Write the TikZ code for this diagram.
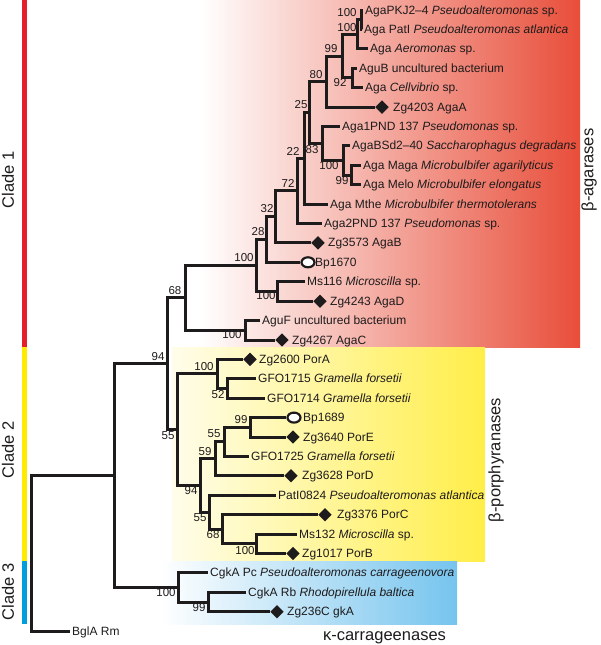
\documentclass[tikz,border=0pt]{standalone}
\usepackage{fontspec}
\setmainfont{Liberation Sans}
\usetikzlibrary{shapes.geometric}
\definecolor{ink}{RGB}{30,27,28}
\definecolor{agmid}{RGB}{241,150,122}
\definecolor{agred}{RGB}{232,78,58}
\definecolor{pyleft}{RGB}{255,253,234}
\definecolor{pymid}{RGB}{255,248,180}
\definecolor{pyright}{RGB}{255,238,72}
\definecolor{kamid}{RGB}{190,226,246}
\definecolor{karight}{RGB}{118,196,238}
\definecolor{barred}{RGB}{228,30,42}
\definecolor{baryellow}{RGB}{255,234,0}
\definecolor{barblue}{RGB}{0,158,219}
\begin{document}
\begin{tikzpicture}[x=1pt,y=-1pt,
  br/.style={line width=3pt,draw=ink,line join=miter},
  leaf/.style={anchor=west,inner xsep=2.5pt,inner ysep=0pt,text height=8pt,text depth=0pt,font=\fontsize{12}{14}\selectfont,text=ink},
  dmd/.style={diamond,fill=ink,inner sep=0pt,minimum width=13.5pt,minimum height=13.5pt},
  oval/.style={ellipse,draw=ink,fill=white,line width=2.2pt,inner sep=0pt,minimum width=13pt,minimum height=10pt},
  bs/.style={font=\fontsize{11.5}{13}\selectfont,text=ink,inner sep=0pt},
  big/.style={font=\fontsize{16.5}{19}\selectfont,text=ink,inner sep=0pt}]
\useasboundingbox (0,0) rectangle (600,645);
% background bands
\shade[left color=white,middle color=agmid,right color=agred] (200,0) rectangle (580,347);
\shade[left color=pyleft,middle color=pymid,right color=pyright] (172,347) rectangle (485,561);
\shade[left color=white,middle color=kamid,right color=karight] (160,561) rectangle (457,624);
% clade bars
\fill[barred] (21.5,0) rectangle (26.5,347);
\fill[baryellow] (21.5,347) rectangle (26.5,561);
\fill[barblue] (21.5,561) rectangle (26.5,624);
\node[big,rotate=90] (cl1) at (8,180) {Clade 1};
\node[big,rotate=90] (cl2) at (8,450) {Clade 2};
\node[big,rotate=90] (cl3) at (8,592) {Clade 3};
\node[big,rotate=90] (gag) at (589,170) {β-agarases};
\node[big,rotate=90] (gpo) at (496,460) {β-porphyranases};
\node[big,anchor=base] (gka) at (384.5,640) {κ-carrageenases};
% internal nodes
\coordinate (root) at (31,553.35);
\coordinate (nX) at (114,475.6);
\coordinate (n94) at (167,363.8);
\coordinate (n68) at (185,297.9);
\coordinate (n100c) at (256,265.5);
\coordinate (n28) at (266.5,239.6);
\coordinate (n32) at (275,216.9);
\coordinate (n72) at (297,190.9);
\coordinate (n22) at (304,158.3);
\coordinate (nF) at (309,112.55);
\coordinate (nE) at (326,81.6);
\coordinate (nC) at (342,56.1);
\coordinate (nB) at (357,34.25);
\coordinate (nA) at (361,19.7);
\coordinate (nD) at (352,77.9);
\coordinate (n83) at (322,143.5);
\coordinate (n100b) at (343,160.45);
\coordinate (n99c) at (351,175);
\coordinate (n100d) at (277,291.45);
\coordinate (n100e) at (245,330.3);
\coordinate (n55a) at (177,429.75);
\coordinate (n100f) at (217,373.95);
\coordinate (n52) at (227.5,388.5);
\coordinate (n94b) at (200,485.55);
\coordinate (n59) at (215,458.8);
\coordinate (n55c) at (224,441.85);
\coordinate (n99d) at (250,427.3);
\coordinate (n55b) at (209,512.3);
\coordinate (n68b) at (222,529.25);
\coordinate (n100g) at (256,543.8);
\coordinate (n100h) at (178,587.45);
\coordinate (n99e) at (208,602);
% leaves
\node[leaf] (t0) at (362.5,10) {AgaPKJ2–4 \textit{Pseudoalteromonas} sp.};
\node[leaf] (t1) at (361.5,29.4) {Aga PatI \textit{Pseudoalteromonas atlantica}};
\node[leaf] (t2) at (367.5,48.8) {Aga \textit{Aeromonas} sp.};
\node[leaf] (t3) at (356.5,68.2) {AguB uncultured bacterium};
\node[leaf] (t4) at (362.5,87.6) {Aga \textit{Cellvibrio} sp.};
\node[dmd] (d5) at (382,107.1) {};
\node[leaf] (t5) at (390.5,107.1) {Zg4203 AgaA};
\node[leaf] (t6) at (339.5,126.5) {Aga1PND 137 \textit{Pseudomonas} sp.};
\node[leaf] (t7) at (349.5,145.9) {AgaBSd2–40 \textit{Saccharophagus degradans}};
\node[leaf] (t8) at (360.5,165.3) {Aga Maga \textit{Microbulbifer agarilyticus}};
\node[leaf] (t9) at (360.5,184.7) {Aga Melo \textit{Microbulbifer elongatus}};
\node[leaf] (t10) at (327.5,204.1) {Aga Mthe \textit{Microbulbifer thermotolerans}};
\node[leaf] (t11) at (321.5,223.5) {Aga2PND 137 \textit{Pseudomonas} sp.};
\node[dmd] (d12) at (318,242.9) {};
\node[leaf] (t12) at (325.5,242.9) {Zg3573 AgaB};
\node[oval] (c13) at (308,262.3) {};
\node[leaf] (t13) at (312.5,262.3) {Bp1670};
\node[leaf] (t14) at (304.5,281.7) {Ms116 \textit{Microscilla} sp.};
\node[dmd] (d15) at (320,301.2) {};
\node[leaf] (t15) at (327.5,301.2) {Zg4243 AgaD};
\node[leaf] (t16) at (259.5,320.6) {AguF uncultured bacterium};
\node[dmd] (d17) at (282,340) {};
\node[leaf] (t17) at (289.5,340) {Zg4267 AgaC};
\node[dmd] (d18) at (250,359.4) {};
\node[leaf] (t18) at (256.5,359.4) {Zg2600 PorA};
\node[leaf] (t19) at (255.5,378.8) {GFO1715 \textit{Gramella forsetii}};
\node[leaf] (t20) at (264.5,398.2) {GFO1714 \textit{Gramella forsetii}};
\node[oval] (c21) at (294,417.6) {};
\node[leaf] (t21) at (300.5,417.6) {Bp1689};
\node[dmd] (d22) at (293,437) {};
\node[leaf] (t22) at (300.5,437) {Zg3640 PorE};
\node[leaf] (t23) at (248.5,456.4) {GFO1725 \textit{Gramella forsetii}};
\node[dmd] (d24) at (291,475.8) {};
\node[leaf] (t24) at (299.5,475.8) {Zg3628 PorD};
\node[leaf] (t25) at (275.5,495.3) {PatI0824 \textit{Pseudoalteromonas atlantica}};
\node[dmd] (d26) at (325,514.7) {};
\node[leaf] (t26) at (334.5,514.7) {Zg3376 PorC};
\node[leaf] (t27) at (296.5,534.1) {Ms132 \textit{Microscilla} sp.};
\node[dmd] (d28) at (293,553.5) {};
\node[leaf] (t28) at (299.5,553.5) {Zg1017 PorB};
\node[leaf] (t29) at (207.5,572.9) {CgkA Pc \textit{Pseudoalteromonas carrageenovora}};
\node[leaf] (t30) at (245.5,592.3) {CgkA Rb \textit{Rhodopirellula baltica}};
\node[dmd] (d31) at (277,611.7) {};
\node[leaf] (t31) at (284.5,611.7) {Zg236C gkA};
\node[leaf] (t32) at (69.5,631.1) {BglA Rm};
% branches
\draw[br] (root) |- (nX); \draw[br] (root) |- (t32.west);
\draw[br] (nX) |- (n94); \draw[br] (nX) |- (n100h);
\draw[br] (n94) |- (n68); \draw[br] (n94) |- (n55a);
\draw[br] (n68) |- (n100c); \draw[br] (n68) |- (n100e);
\draw[br] (n100c) |- (n28); \draw[br] (n100c) |- (n100d);
\draw[br] (n28) |- (n32); \draw[br] (n28) |- (c13.west);
\draw[br] (n32) |- (n72); \draw[br] (n32) |- (d12.west);
\draw[br] (n72) |- (n22); \draw[br] (n72) |- (t11.west);
\draw[br] (n22) |- (nF); \draw[br] (n22) |- (t10.west);
\draw[br] (nF) |- (nE); \draw[br] (nF) |- (n83);
\draw[br] (nE) |- (nC); \draw[br] (nE) |- (d5.west);
\draw[br] (nC) |- (nB); \draw[br] (nC) |- (nD);
\draw[br] (nB) |- (nA); \draw[br] (nB) |- (t2.west);
\draw[br] (nA) |- (t0.west); \draw[br] (nA) |- (t1.west);
\draw[br] (nD) |- (t3.west); \draw[br] (nD) |- (t4.west);
\draw[br] (n83) |- (t6.west); \draw[br] (n83) |- (n100b);
\draw[br] (n100b) |- (t7.west); \draw[br] (n100b) |- (n99c);
\draw[br] (n99c) |- (t8.west); \draw[br] (n99c) |- (t9.west);
\draw[br] (n100d) |- (t14.west); \draw[br] (n100d) |- (d15.west);
\draw[br] (n100e) |- (t16.west); \draw[br] (n100e) |- (d17.west);
\draw[br] (n55a) |- (n100f); \draw[br] (n55a) |- (n94b);
\draw[br] (n100f) |- (d18.west); \draw[br] (n100f) |- (n52);
\draw[br] (n52) |- (t19.west); \draw[br] (n52) |- (t20.west);
\draw[br] (n94b) |- (n59); \draw[br] (n94b) |- (n55b);
\draw[br] (n59) |- (n55c); \draw[br] (n59) |- (d24.west);
\draw[br] (n55c) |- (n99d); \draw[br] (n55c) |- (t23.west);
\draw[br] (n99d) |- (c21.west); \draw[br] (n99d) |- (d22.west);
\draw[br] (n55b) |- (t25.west); \draw[br] (n55b) |- (n68b);
\draw[br] (n68b) |- (d26.west); \draw[br] (n68b) |- (n100g);
\draw[br] (n100g) |- (t27.west); \draw[br] (n100g) |- (d28.west);
\draw[br] (n100h) |- (t29.west); \draw[br] (n100h) |- (n99e);
\draw[br] (n99e) |- (t30.west); \draw[br] (n99e) |- (d31.west);
% bootstrap values
\node[bs] (bA) at (347,13) {100};
\node[bs] (bB) at (347,28) {100};
\node[bs] (bC) at (331,48.5) {99};
\node[bs] (bD) at (340,83) {92};
\node[bs] (bE) at (316,75) {80};
\node[bs] (bF) at (301,104.5) {25};
\node[bs] (b83) at (312,150) {83};
\node[bs] (b22) at (293,151) {22};
\node[bs] (b100b) at (329,165.5) {100};
\node[bs] (b99c) at (342,181) {99};
\node[bs] (b72) at (288,183) {72};
\node[bs] (b32) at (267,209) {32};
\node[bs] (b28) at (258,232) {28};
\node[bs] (b100c) at (244,258) {100};
\node[bs] (b100d) at (266,296) {100};
\node[bs] (b68) at (175,290.5) {68};
\node[bs] (b100e) at (232,335) {100};
\node[bs] (b94) at (158,356.5) {94};
\node[bs] (b100f) at (204,366.5) {100};
\node[bs] (b52) at (218,395) {52};
\node[bs] (b55a) at (168,436) {55};
\node[bs] (b99d) at (241,420) {99};
\node[bs] (b55c) at (214,434) {55};
\node[bs] (b59) at (205,451.5) {59};
\node[bs] (b94b) at (191,491) {94};
\node[bs] (b55b) at (200,518) {55};
\node[bs] (b68b) at (213,535) {68};
\node[bs] (b100g) at (245,551) {100};
\node[bs] (b100h) at (166,593) {100};
\node[bs] (b99e) at (199,608) {99};
\end{tikzpicture}
\end{document}
